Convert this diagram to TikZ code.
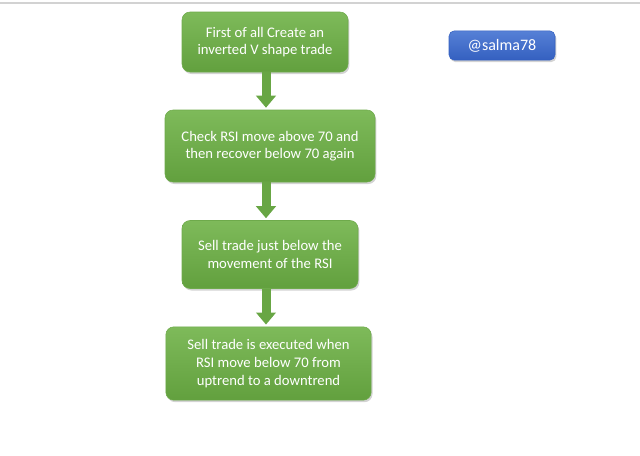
\documentclass[tikz,border=0pt]{standalone}
\usepackage{fontspec}
\setmainfont{Carlito}
\usetikzlibrary{arrows.meta,shadows}
\definecolor{boxtop}{RGB}{126,186,90}
\definecolor{boxbot}{RGB}{98,160,62}
\definecolor{boxedge}{RGB}{110,170,75}
\definecolor{tagtop}{RGB}{86,128,214}
\definecolor{tagbot}{RGB}{52,96,192}
\definecolor{flowcol}{RGB}{104,166,68}

\tikzset{
  stepbox/.style={rectangle,rounded corners=6pt,draw=boxedge,thin,
    top color=boxtop,bottom color=boxbot,text=white,align=center,
    font=\fontsize{11pt}{13.2pt}\selectfont,inner sep=2pt,
    drop shadow={shadow xshift=1pt,shadow yshift=-1.5pt,opacity=0.35}},
  tagbox/.style={rectangle,rounded corners=4pt,draw=tagbot,thin,
    top color=tagtop,bottom color=tagbot,text=white,
    font=\fontsize{12pt}{14pt}\selectfont,
    drop shadow={shadow xshift=1pt,shadow yshift=-1.5pt,opacity=0.35}},
  flow/.style={flowcol,line width=6.75pt,
    -{Triangle[width=14.5pt,length=9pt]},shorten >=1.5pt}
}

\begin{document}
\begin{tikzpicture}[x=0.75pt,y=-0.75pt]
\useasboundingbox (0,0) rectangle (640,455);
\draw[gray!35,line width=1pt] (0,3) -- (640,3);
\node[stepbox,minimum width=124.5pt,minimum height=45pt] (first) at (265,42)
  {First of all Create an\\inverted V shape trade};
\node[stepbox,minimum width=157.5pt,minimum height=54pt] (check) at (270,146)
  {Check RSI move above 70 and\\then recover below 70 again};
\node[stepbox,minimum width=132pt,minimum height=51pt] (sell) at (270,254.5)
  {Sell trade just below the\\movement of the RSI};
\node[stepbox,minimum width=154pt,minimum height=55pt] (done) at (268.5,363.5)
  {Sell trade is executed when\\RSI move below 70 from\\uptrend to a downtrend};
\node[tagbox,minimum width=79.5pt,minimum height=22pt] (tag) at (502,45.5)
  {@salma78};
\draw[flow] (first.south -| 266,0) -- (check.north -| 266,0);
\draw[flow] (check.south -| 266,0) -- (sell.north -| 266,0);
\draw[flow] (sell.south -| 266,0) -- (done.north -| 266,0);
\end{tikzpicture}
\end{document}
